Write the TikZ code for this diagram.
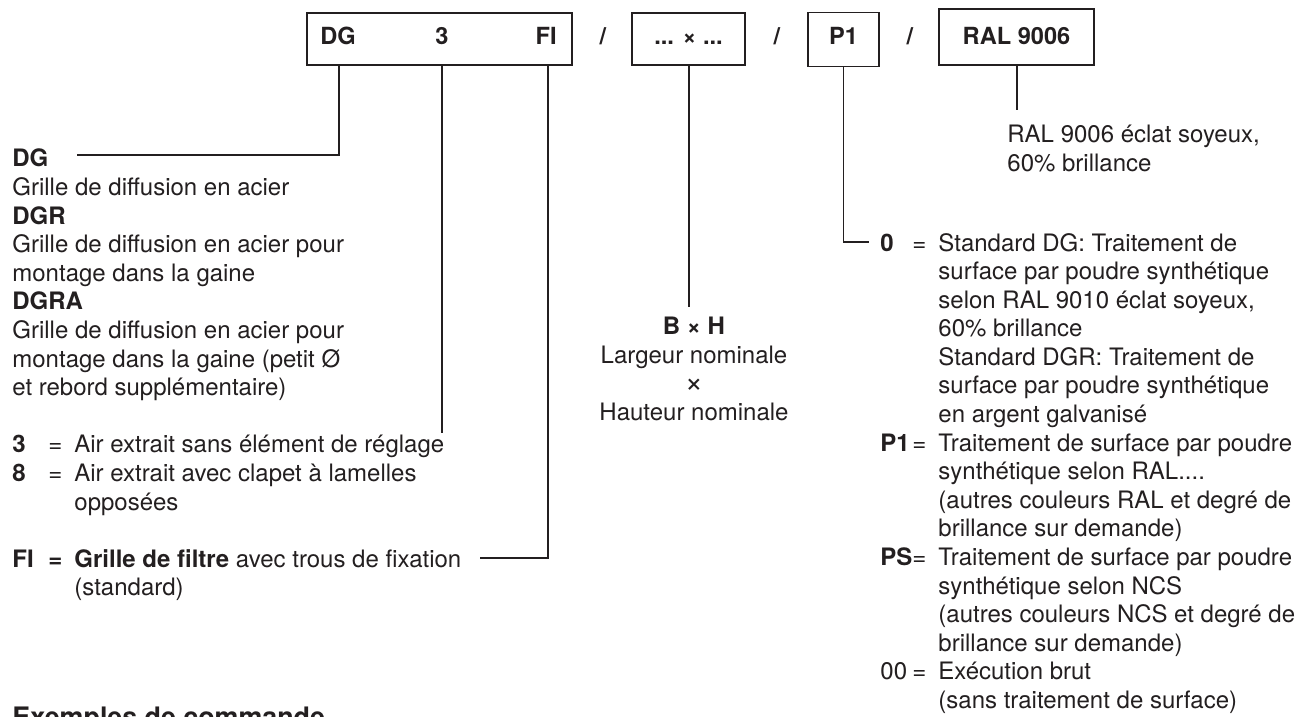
\documentclass[tikz,border=0pt]{standalone}
\usepackage{fontspec}
\setmainfont{TeX Gyre Heros}
\definecolor{txt}{HTML}{231F20}
\begin{document}
\begin{tikzpicture}[x=0.5pt,y=-0.5pt,
  every node/.style={inner sep=0pt, text=txt, font=\fontsize{12pt}{14.3pt}\selectfont},
  codebox/.style={draw=txt, line width=0.65pt},
  ln/.style={draw=txt, line width=0.65pt},
  boxlabel/.style={font=\fontsize{11.8pt}{14pt}\selectfont\bfseries}]
\fill[white] (0,0) rectangle (1308,717);
\useasboundingbox (0,0) rectangle (1308,717);

% code boxes
\node[codebox, minimum width=132.5pt, minimum height=26pt] (box1) at (439.5,39) {};
\node[codebox, minimum width=56.5pt, minimum height=26pt] (box2) at (688.5,39) {};
\node[codebox, minimum width=35.5pt, minimum height=27.2pt] (box3) at (843.5,39.5) {};
\node[codebox, minimum width=77.5pt, minimum height=28pt] (box4) at (1016.5,37) {};

\node[boxlabel, anchor=base west] (dg) at (320,45) {DG};
\node[boxlabel, anchor=base] (three) at (442,45) {3};
\node[boxlabel, anchor=base east] (fi) at (557,45) {FI};
\node[boxlabel, anchor=base] (dim) at (688.5,45) {... × ...};
\node[boxlabel, anchor=base] (p1) at (843.5,45) {P1};
\node[boxlabel, anchor=base] (ral) at (1016.5,45) {RAL 9006};
\node[boxlabel, anchor=base] (sl1) at (603,45) {/};
\node[boxlabel, anchor=base] (sl2) at (777,45) {/};
\node[boxlabel, anchor=base] (sl3) at (910,45) {/};

% left column
\node[anchor=base west] (left) at (12,167) {%
\begin{tabular}[t]{@{}p{18pt}@{}c@{\hspace{6pt}}l@{}}
\multicolumn{3}{@{}l@{}}{\textbf{DG}}\\
\multicolumn{3}{@{}l@{}}{Grille de diffusion en acier}\\
\multicolumn{3}{@{}l@{}}{\textbf{DGR}}\\
\multicolumn{3}{@{}l@{}}{Grille de diffusion en acier pour}\\
\multicolumn{3}{@{}l@{}}{montage dans la gaine}\\
\multicolumn{3}{@{}l@{}}{\textbf{DGRA}}\\
\multicolumn{3}{@{}l@{}}{Grille de diffusion en acier pour}\\
\multicolumn{3}{@{}l@{}}{montage dans la gaine (petit Ø}\\
\multicolumn{3}{@{}l@{}}{et rebord supplémentaire)}\\
\multicolumn{3}{@{}l@{}}{}\\
\textbf{3} & = & Air extrait sans élément de réglage\\
\textbf{8} & = & Air extrait avec clapet à lamelles\\
 & & opposées\\
\multicolumn{3}{@{}l@{}}{}\\
\textbf{FI} & \textbf{=} & \textbf{Grille de filtre} avec trous de fixation\\
 & & (standard)
\end{tabular}};

% B x H
\node[anchor=base] (bhtext) at (694,335) {%
\begin{tabular}[t]{@{}c@{}}
\textbf{B × H}\\
Largeur nominale\\
\scalebox{1.3}{×}\\
Hauteur nominale
\end{tabular}};

% RAL text
\node[anchor=base west] (raltext) at (1007,143) {%
\begin{tabular}[t]{@{}l@{}}
RAL 9006 éclat soyeux,\\
60\% brillance
\end{tabular}};

% right column
\node[anchor=base west] (right) at (880,251) {%
\begin{tabular}[t]{@{}l@{}c@{\hspace{6pt}}l@{}}
\textbf{0} & = & Standard DG: Traitement de\\
 & & surface par poudre synthétique\\
 & & selon RAL 9010 éclat soyeux,\\
 & & 60\% brillance\\
 & & Standard DGR: Traitement de\\
 & & surface par poudre synthétique\\
 & & en argent galvanisé\\
\textbf{P1} & = & Traitement de surface par poudre\\
 & & synthétique selon RAL....\\
 & & (autres couleurs RAL et degré de\\
 & & brillance sur demande)\\
\textbf{PS} & = & Traitement de surface par poudre\\
 & & synthétique selon NCS\\
 & & (autres couleurs NCS et degré de\\
 & & brillance sur demande)\\
00 & = & Exécution brut\\
 & & (sans traitement de surface)
\end{tabular}};

\node[anchor=base west, font=\fontsize{13.4pt}{16pt}\selectfont\bfseries] (ex) at (12,726) {Exemples de commande};

% connectors
\coordinate (dgc) at (339,155);
\coordinate (dgend) at (77,155);
\coordinate (tc) at (442,433);
\coordinate (fic) at (548,558);
\coordinate (fiend) at (480,558);
\coordinate (bhc) at (689,307);
\coordinate (p1c) at (869,242);
\coordinate (ralc) at (1017,110);

\draw[ln] (box1.south -| dgc) -- (dgc) -- (dgend);
\draw[ln] (box1.south -| tc) -- (tc);
\draw[ln] (box1.south -| fic) -- (fic) -- (fiend);
\draw[ln] (box2.south -| bhc) -- (bhc);
\draw[ln] (box3.south) -- (box3.south |- p1c) -- (p1c);
\draw[ln] (box4.south -| ralc) -- (ralc);
\end{tikzpicture}
\end{document}
